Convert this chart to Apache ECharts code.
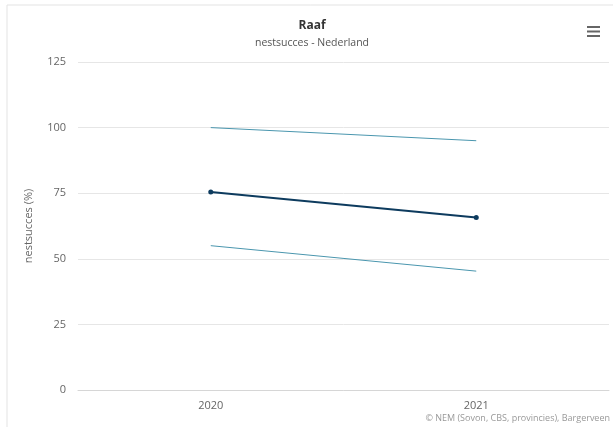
<!DOCTYPE html>
<html><head><meta charset="utf-8">
<script src="https://cdn.jsdelivr.net/npm/echarts@6/dist/echarts.min.js"></script>
<style>html,body{margin:0;padding:0;background:#fff}#c{width:613px;height:427px}</style>
</head><body><div id="c"></div>
<script>
const years = ['2020', '2021'];
const meanValues = [75.5, 65.7];
const upperValues = [100, 95];
const lowerValues = [55, 45.3];
const yTicks = [0, 25, 50, 75, 100, 125];

const chart = echarts.init(document.getElementById('c'), null, {renderer: 'canvas'});
const font = '"Open Sans", "Noto Sans", sans-serif';
chart.setOption({
  animation: false,
  textStyle: {fontFamily: font},
  title: {
    text: 'Raaf', subtext: 'nestsucces - Nederland', left: 307, textAlign: 'center', top: 15,
    textStyle: {fontSize: 12, fontWeight: 'bold', color: '#333', fontFamily: font},
    subtextStyle: {fontSize: 10.5, color: '#555', fontFamily: font}, itemGap: 6
  },
  grid: {left: 78, right: 4, top: 62, bottom: 37, containLabel: false},
  xAxis: {
    type: 'category', data: years, boundaryGap: true,
    axisLine: {lineStyle: {color: '#d6d6d6', width: 1}},
    axisTick: {alignWithLabel: true, length: 6, lineStyle: {color: '#d6d6d6'}},
    axisLabel: {fontSize: 11, color: '#666', margin: 10, fontFamily: font}
  },
  yAxis: {
    type: 'value', min: yTicks[0], max: yTicks[yTicks.length - 1], interval: 25,
    name: 'nestsucces (%)', nameLocation: 'middle', nameGap: 44, nameRotate: 90,
    nameTextStyle: {fontSize: 11, color: '#666', fontFamily: font},
    axisLine: {show: false}, axisTick: {show: false},
    axisLabel: {fontSize: 11, color: '#666', margin: 12, fontFamily: font},
    splitLine: {lineStyle: {color: '#e6e6e6', width: 1}}
  },
  series: [
    {type: 'line', data: upperValues, symbol: 'none', lineStyle: {color: '#4a96ae', width: 1}},
    {type: 'line', data: lowerValues, symbol: 'none', lineStyle: {color: '#4a96ae', width: 1}},
    {type: 'line', data: meanValues, symbol: 'circle', symbolSize: 5,
     itemStyle: {color: '#0d3b5e'}, lineStyle: {color: '#0d3b5e', width: 2}}
  ],
  graphic: [
    {type: 'rect', shape: {x: 7, y: 5, width: 620, height: 440}, style: {fill: 'none', stroke: '#e3e3e3', lineWidth: 1}, silent: true},
    {type: 'rect', shape: {x: 587, y: 26, width: 13, height: 2}, style: {fill: '#666'}},
    {type: 'rect', shape: {x: 587, y: 30.5, width: 13, height: 2}, style: {fill: '#666'}},
    {type: 'rect', shape: {x: 587, y: 35, width: 13, height: 2}, style: {fill: '#666'}},
    {type: 'text', right: 3, top: 414, style: {text: '© NEM (Sovon, CBS, provincies), Bargerveen', fontSize: 9, fill: '#999', fontFamily: font}}
  ]
});
</script></body></html>
